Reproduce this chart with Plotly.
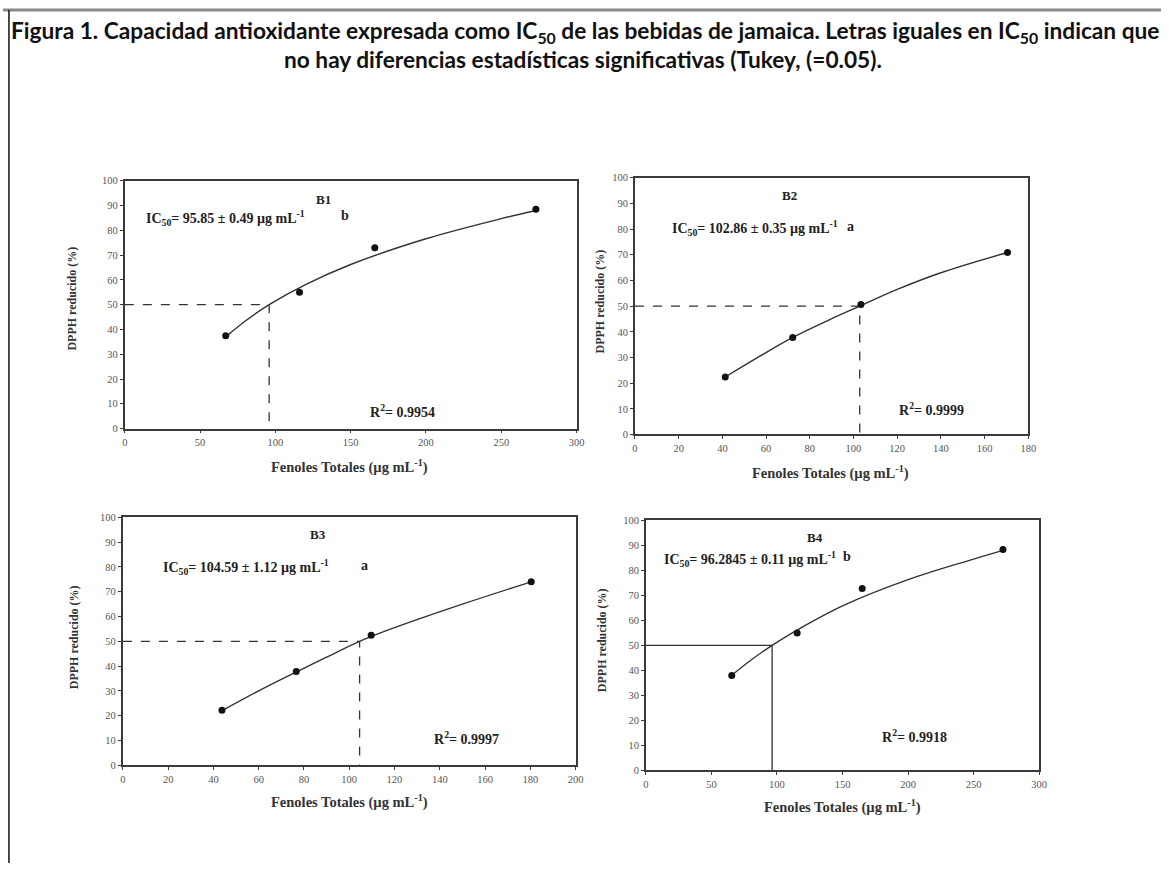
import plotly.graph_objects as go

W, H = 1169, 869

# ---------------- data ----------------
panels = ["B1", "B2", "B3", "B4"]
ic50_vals = [95.85, 102.86, 104.59, 96.2845]
ic50_err = [0.49, 0.35, 1.12, 0.11]
ic50_letter = ["b", "a", "a", "b"]
r2_vals = ["0.9954", "0.9999", "0.9997", "0.9918"]
x_max = [300, 180, 200, 300]
x_dtick = [50, 20, 20, 50]

b1_x = [67, 116, 166, 273]
b1_y = [37.5, 55.0, 73.0, 88.5]
b2_x = [41.3, 72.2, 103.4, 170.5]
b2_y = [22.4, 37.8, 50.6, 70.9]
b3_x = [43.8, 76.6, 109.7, 180.4]
b3_y = [22.2, 37.8, 52.5, 74.0]
b4_x = [65.5, 115.4, 165.0, 272.4]
b4_y = [37.9, 54.9, 72.7, 88.3]

# fitted curves
b1_fx = [67, 80, 95.85, 120, 150, 200, 250, 273]
b1_fy = [37.0, 43.4, 50.0, 58.1, 66.2, 76.6, 84.7, 88.0]
b2_fx = [41.3, 57, 72.2, 88, 102.86, 120, 140, 170.5]
b2_fy = [22.4, 30.4, 37.8, 44.3, 50.0, 56.5, 63.0, 70.9]
b3_fx = [43.8, 60, 76.6, 90, 104.59, 120, 150, 180.4]
b3_fy = [22.0, 30.0, 37.6, 43.6, 50.0, 55.5, 65.0, 74.0]
b4_fx = [65.5, 80, 96.2845, 120, 150, 200, 250, 272.4]
b4_fy = [38.0, 44.0, 50.0, 57.5, 65.8, 76.3, 84.5, 88.0]

pts_x = [b1_x, b2_x, b3_x, b4_x]
pts_y = [b1_y, b2_y, b3_y, b4_y]
fit_x = [b1_fx, b2_fx, b3_fx, b4_fx]
fit_y = [b1_fy, b2_fy, b3_fy, b4_fy]
ref_dash = ["dash", "dash", "dash", "solid"]

# ---------------- layout geometry (pixels) ----------------
boxes = [(123, 579, 178, 429), (638, 1035, 175, 435), (121, 578, 519, 770), (649, 1046, 522, 775)]
lbl_pos = [(0.44, 0.925), (0.393, 0.93), (0.43, 0.93), (0.43, 0.93)]
ic_pos = [(0.042, 85), (0.088, 80.4), (0.085, 80), (0.04, 84.6)]
letter_x = [0.487, 0.547, 0.534, 0.512]
r2_pos = [(0.615, 7), (0.755, 10), (0.76, 10.8), (0.683, 13.8)]
xt_pos = [(350, 467), (835, 473), (350, 807), (847, 812)]
yt_pos = [(70, 297), (603, 300), (72, 640), (605, 643)]

SERIF = "Liberation Serif, Times New Roman, serif"
TXT = "#222"
AX = "#3a3a3a"

fig = go.Figure()
annotations = []
layout_axes = {}

for i in range(4):
    n = "" if i == 0 else str(i + 1)
    xa, ya = "x" + n, "y" + n
    l, r, t, b = boxes[i]
    common = dict(showline=True, mirror=True, linecolor=AX, linewidth=1.8, showgrid=False,
                  zeroline=False, ticks="outside", ticklen=3, tickcolor=AX,
                  tickfont=dict(family=SERIF, size=10.5, color="#555"), fixedrange=True)
    layout_axes["xaxis" + n] = dict(domain=[l / W, r / W], range=[0, x_max[i]],
                                    dtick=x_dtick[i], anchor=ya, **common)
    layout_axes["yaxis" + n] = dict(domain=[1 - b / H, 1 - t / H], range=[0, 100],
                                    dtick=10, anchor=xa, **common)

    ic = ic50_vals[i]
    fig.add_trace(go.Scatter(x=[0, ic, ic], y=[50, 50, 0], mode="lines",
                             line=dict(color="#333", width=1.3, dash=ref_dash[i]),
                             xaxis=xa, yaxis=ya, showlegend=False, hoverinfo="skip"))
    fig.add_trace(go.Scatter(x=fit_x[i], y=fit_y[i], mode="lines", line_shape="spline",
                             line=dict(color="#333", width=1.4),
                             xaxis=xa, yaxis=ya, showlegend=False))
    fig.add_trace(go.Scatter(x=pts_x[i], y=pts_y[i], mode="markers",
                             marker=dict(color="#111", size=7),
                             xaxis=xa, yaxis=ya, showlegend=False))

    annotations.append(dict(text="<b>%s</b>" % panels[i], x=lbl_pos[i][0], y=lbl_pos[i][1],
                            xref=xa + " domain", yref=ya + " domain", showarrow=False,
                            xanchor="center", yanchor="middle",
                            font=dict(family=SERIF, size=13, color=TXT)))
    annotations.append(dict(
        text="<b>IC<sub>50</sub>= %s ± %s µg mL<sup>-1</sup></b>" % (
            ("%g" % ic), ("%.2f" % ic50_err[i])),
        x=ic_pos[i][0], y=ic_pos[i][1], xref=xa + " domain", yref=ya,
        xanchor="left", yanchor="middle", showarrow=False,
        font=dict(family=SERIF, size=14, color=TXT)))
    annotations.append(dict(text="<b>%s</b>" % ic50_letter[i],
                            x=letter_x[i], y=ic_pos[i][1] + 0.8, xref=xa + " domain", yref=ya,
                            xanchor="center", yanchor="middle", showarrow=False,
                            font=dict(family=SERIF, size=14, color=TXT)))
    annotations.append(dict(text="<b>R<sup>2</sup>= %s</b>" % r2_vals[i],
                            x=r2_pos[i][0], y=r2_pos[i][1], xref=xa + " domain", yref=ya,
                            xanchor="center", yanchor="middle", showarrow=False,
                            font=dict(family=SERIF, size=14, color=TXT)))
    annotations.append(dict(text="<b>Fenoles Totales (µg mL<sup>-1</sup>)</b>",
                            x=xt_pos[i][0] / W, y=1 - xt_pos[i][1] / H, xref="paper", yref="paper",
                            xanchor="center", yanchor="middle", showarrow=False,
                            font=dict(family=SERIF, size=14.5, color="#333")))
    annotations.append(dict(text="<b>DPPH reducido (%)</b>", textangle=-90,
                            x=yt_pos[i][0] / W, y=1 - yt_pos[i][1] / H, xref="paper", yref="paper",
                            xanchor="center", yanchor="middle", showarrow=False,
                            font=dict(family=SERIF, size=12, color="#333")))

# figure caption
TITLE_FONT = dict(family="Lato, Open Sans, sans-serif", size=22.7, color="#111")
annotations.append(dict(
    text="<b>Figura 1. Capacidad antioxidante expresada como IC<sub>50</sub> de las bebidas de jamaica. "
         "Letras iguales en IC<sub>50</sub> indican que</b>",
    x=588 / W, y=1 - 27 / H, xref="paper", yref="paper", xanchor="center", yanchor="middle",
    showarrow=False, font=TITLE_FONT))
annotations.append(dict(
    text="<b>no hay diferencias estadísticas significativas (Tukey, (=0.05).</b>",
    x=586 / W, y=1 - 55 / H, xref="paper", yref="paper", xanchor="center", yanchor="middle",
    showarrow=False, font=TITLE_FONT))

shapes = [
    dict(type="line", xref="paper", yref="paper", x0=0, x1=1, y0=1 - 5 / H, y1=1 - 5 / H,
         line=dict(color="#8a8a8a", width=3), layer="above"),
    dict(type="line", xref="paper", yref="paper", x0=6 / W, x1=6 / W, y0=0, y1=1 - 5 / H,
         line=dict(color="#111", width=1.5), layer="above"),
]

fig.update_layout(width=W, height=H, margin=dict(l=0, r=0, t=0, b=0),
                  paper_bgcolor="white", plot_bgcolor="white",
                  annotations=annotations, shapes=shapes, showlegend=False, **layout_axes)

fig.write_html("out.html", config={"displayModeBar": False},
               post_script="document.body.style.margin='0';document.body.style.overflow='hidden';")
